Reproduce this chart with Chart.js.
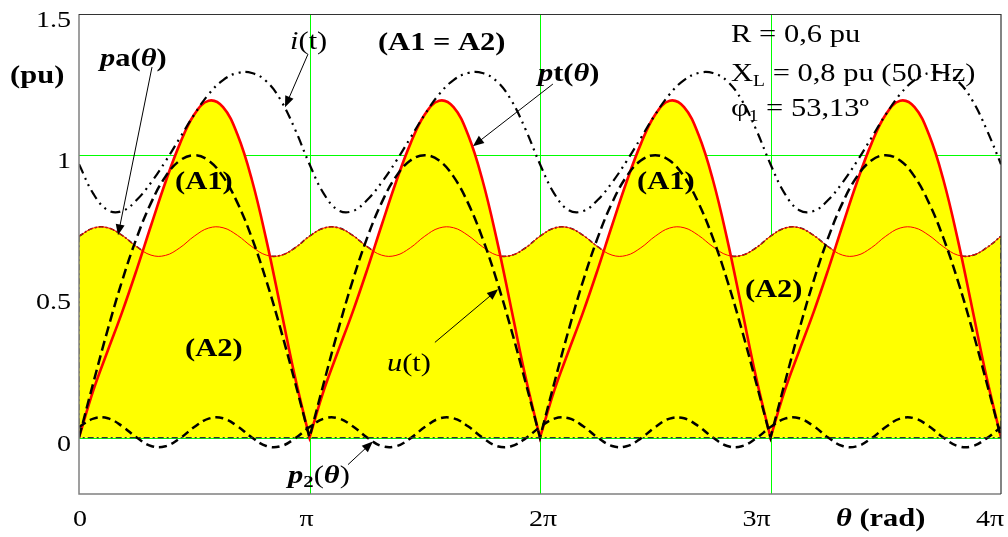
<!DOCTYPE html>
<html>
<head>
<meta charset="utf-8">
<script src="https://cdn.jsdelivr.net/npm/chart.js@4.4.1/dist/chart.umd.min.js"></script>
<style>
html,body{margin:0;padding:0;background:#fff;}
canvas{display:block;}
</style>
</head>
<body>
<canvas id="c" width="1008" height="537"></canvas>
<script>
// ---------------- data ----------------
// samples every pi/16 from 0 to 4*pi
const samplesPerPi = 16;

const uValues = [
  0,0.195,0.383,0.556,0.707,0.831,0.924,0.981,1,0.981,0.924,0.831,0.707,0.556,0.383,0.195,
  0,0.195,0.383,0.556,0.707,0.831,0.924,0.981,1,0.981,0.924,0.831,0.707,0.556,0.383,0.195,
  0,0.195,0.383,0.556,0.707,0.831,0.924,0.981,1,0.981,0.924,0.831,0.707,0.556,0.383,0.195,
  0,0.195,0.383,0.556,0.707,0.831,0.924,0.981,1,0.981,0.924,0.831,0.707,0.556,0.383,0.195,
  0
];
const iValues = [
  0.968,0.863,0.805,0.802,0.841,0.903,0.978,1.061,1.144,1.216,1.266,1.291,1.291,1.262,1.195,1.091,
  0.968,0.863,0.805,0.802,0.841,0.903,0.978,1.061,1.144,1.216,1.266,1.291,1.291,1.262,1.195,1.091,
  0.968,0.863,0.805,0.802,0.841,0.903,0.978,1.061,1.144,1.216,1.266,1.291,1.291,1.262,1.195,1.091,
  0.968,0.863,0.805,0.802,0.841,0.903,0.978,1.061,1.144,1.216,1.266,1.291,1.291,1.262,1.195,1.091,
  0.968
];
const ptValues = [
  0,0.168,0.308,0.445,0.594,0.751,0.904,1.040,1.144,1.193,1.170,1.073,0.913,0.701,0.458,0.213,
  0,0.168,0.308,0.445,0.594,0.751,0.904,1.040,1.144,1.193,1.170,1.073,0.913,0.701,0.458,0.213,
  0,0.168,0.308,0.445,0.594,0.751,0.904,1.040,1.144,1.193,1.170,1.073,0.913,0.701,0.458,0.213,
  0,0.168,0.308,0.445,0.594,0.751,0.904,1.040,1.144,1.193,1.170,1.073,0.913,0.701,0.458,0.213,
  0
];
const paValues = [
  0.713,0.742,0.743,0.716,0.676,0.646,0.645,0.672,0.713,0.742,0.743,0.716,0.676,0.646,0.645,0.672,
  0.713,0.742,0.743,0.716,0.676,0.646,0.645,0.672,0.713,0.742,0.743,0.716,0.676,0.646,0.645,0.672,
  0.713,0.742,0.743,0.716,0.676,0.646,0.645,0.672,0.713,0.742,0.743,0.716,0.676,0.646,0.645,0.672,
  0.713,0.742,0.743,0.716,0.676,0.646,0.645,0.672,0.713,0.742,0.743,0.716,0.676,0.646,0.645,0.672,
  0.713
];
const p2Values = [
  0.037,0.067,0.068,0.040,0.000,-0.030,-0.031,-0.003,0.037,0.067,0.068,0.040,0.000,-0.030,-0.031,-0.003,
  0.037,0.067,0.068,0.040,0.000,-0.030,-0.031,-0.003,0.037,0.067,0.068,0.040,0.000,-0.030,-0.031,-0.003,
  0.037,0.067,0.068,0.040,0.000,-0.030,-0.031,-0.003,0.037,0.067,0.068,0.040,0.000,-0.030,-0.031,-0.003,
  0.037,0.067,0.068,0.040,0.000,-0.030,-0.031,-0.003,0.037,0.067,0.068,0.040,0.000,-0.030,-0.031,-0.003,
  0.037
];

// ticks (x in multiples of pi)
const xTickValues = [0, 1, 2, 3, 4];
const xTickLabels = ['0', 'π', '2π', '3π', '4π'];
const yTickValues = [0, 0.5, 1, 1.5];
const yTickLabels = ['0', '0.5', '1', '1.5'];
const yMin = -0.2, yMax = 1.5;

// ---------------- build tables for the library ----------------
const theta = uValues.map((_, k) => k * Math.PI / samplesPerPi);
const pts = vals => vals.map((v, k) => ({x: theta[k], y: v}));
// duplicate interior zero points so the rectified curves keep sharp cusps
const ptsCusp = vals => {
  const out = [];
  vals.forEach((v, k) => {
    out.push({x: theta[k], y: v});
    if (v === 0 && k > 0 && k < vals.length - 1) out.push({x: theta[k], y: v});
  });
  return out;
};
const last = theta.length - 1;
const areaEdge = [
  {x: theta[0], y: paValues[0]}, {x: theta[0], y: 0},
  {x: theta[last], y: 0}, {x: theta[last], y: paValues[last]}
];
const gridX = xTickValues.filter(v => v > xTickValues[0] && v < xTickValues[xTickValues.length - 1]);
const gridY = yTickValues.filter(v => v < yMax);

// ---------------- drawing helpers ----------------
const SX = 1.22;
const FAM = '"Liberation Serif","Times New Roman",serif';
function runs(ctx, list, x, y, baseline, align) {
  ctx.save();
  ctx.textBaseline = baseline || 'middle';
  ctx.textAlign = 'left';
  let w = 0;
  for (const r of list) { ctx.font = `${r[1]} ${r[2]}px ${FAM}`; w += ctx.measureText(r[0]).width; }
  ctx.translate(x, y);
  ctx.scale(SX, 1);
  let cx = align === 'right' ? -w : (align === 'center' ? -w / 2 : 0);
  ctx.fillStyle = '#000';
  for (const r of list) {
    ctx.font = `${r[1]} ${r[2]}px ${FAM}`;
    ctx.fillText(r[0], cx, r[3] || 0);
    cx += ctx.measureText(r[0]).width;
  }
  ctx.restore();
}
function arrow(ctx, a, b) {
  const [x1, y1] = a, [x2, y2] = b;
  const ang = Math.atan2(y2 - y1, x2 - x1);
  const L = 11, W = 4.5;
  ctx.save();
  ctx.strokeStyle = '#000'; ctx.fillStyle = '#000'; ctx.lineWidth = 1;
  ctx.beginPath(); ctx.moveTo(x1, y1);
  ctx.lineTo(x2 - Math.cos(ang) * L * 0.8, y2 - Math.sin(ang) * L * 0.8); ctx.stroke();
  ctx.beginPath();
  ctx.moveTo(x2, y2);
  ctx.lineTo(x2 - Math.cos(ang) * L - Math.sin(ang) * W, y2 - Math.sin(ang) * L + Math.cos(ang) * W);
  ctx.lineTo(x2 - Math.cos(ang) * L + Math.sin(ang) * W, y2 - Math.sin(ang) * L - Math.cos(ang) * W);
  ctx.closePath(); ctx.fill();
  ctx.restore();
}

const greenGrid = {
  id: 'greenGrid',
  beforeDatasetsDraw(chart) {
    const ctx = chart.ctx, xs = chart.scales.x, ys = chart.scales.y, a = chart.chartArea;
    ctx.save();
    ctx.strokeStyle = '#00ff00'; ctx.lineWidth = 1;
    gridX.forEach(v => {
      const px = Math.round(xs.getPixelForValue(v * Math.PI)) + 0.5;
      ctx.beginPath(); ctx.moveTo(px, a.top); ctx.lineTo(px, a.bottom); ctx.stroke();
    });
    gridY.forEach(v => {
      const py = Math.round(ys.getPixelForValue(v)) + 0.5;
      ctx.beginPath(); ctx.moveTo(a.left, py); ctx.lineTo(a.right, py); ctx.stroke();
    });
    ctx.restore();
  }
};

const decor = {
  id: 'decor',
  afterDraw(chart) {
    const ctx = chart.ctx;
    const xs = chart.scales.x, ys = chart.scales.y, a = chart.chartArea;
    const P = (tp, v) => [xs.getPixelForValue(tp * Math.PI), ys.getPixelForValue(v)];

    // frame
    ctx.save();
    ctx.lineWidth = 1.5; ctx.strokeStyle = '#808080';
    ctx.beginPath(); ctx.moveTo(a.left, a.top); ctx.lineTo(a.left, a.bottom); ctx.lineTo(a.right, a.bottom); ctx.stroke();
    ctx.lineWidth = 1.2; ctx.strokeStyle = '#333';
    ctx.beginPath(); ctx.moveTo(a.left, a.top + 0.5); ctx.lineTo(a.right, a.top + 0.5); ctx.lineTo(a.right, a.bottom); ctx.stroke();
    ctx.restore();

    // tick labels
    const xOff = [1, -3, 3, -14, -11];
    xTickValues.forEach((v, i) => {
      runs(ctx, [[xTickLabels[i], 'normal', 23]], xs.getPixelForValue(v * Math.PI) + xOff[i], a.bottom + 26, 'middle', 'center');
    });
    yTickValues.forEach((v, i) => {
      runs(ctx, [[yTickLabels[i], 'normal', 23]], a.left - 8, ys.getPixelForValue(v) + 7, 'middle', 'right');
    });

    // axis captions
    runs(ctx, [['(pu)', 'bold', 25]], ...P(-0.299, 1.280), 'middle');
    runs(ctx, [['θ', 'italic bold', 25], [' (rad)', 'bold', 25]], ...P(3.284, -0.291), 'middle');

    // curve labels
    runs(ctx, [['p', 'italic bold', 25], ['a(', 'bold', 25], ['θ', 'italic bold', 25], [')', 'bold', 25]], ...P(0.0911, 1.340), 'middle');
    runs(ctx, [['i', 'italic', 25], ['(t)', 'normal', 25]], ...P(0.9154, 1.401), 'middle');
    runs(ctx, [['(A1 = A2)', 'bold', 25]], ...P(1.297, 1.394), 'middle');
    runs(ctx, [['p', 'italic bold', 25], ['t(', 'bold', 25], ['θ', 'italic bold', 25], [')', 'bold', 25]], ...P(1.991, 1.284), 'middle');
    runs(ctx, [['(A1)', 'bold', 25]], ...P(0.4165, 0.904), 'middle');
    runs(ctx, [['(A1)', 'bold', 25]], ...P(2.421, 0.904), 'middle');
    runs(ctx, [['(A2)', 'bold', 25]], ...P(0.460, 0.312), 'middle');
    runs(ctx, [['(A2)', 'bold', 25]], ...P(2.889, 0.521), 'middle');
    runs(ctx, [['u', 'italic', 25], ['(t)', 'normal', 25]], ...P(1.336, 0.259), 'middle');
    runs(ctx, [['p', 'italic bold', 25], ['2', 'bold', 17, 6], ['(', 'normal', 25], ['θ', 'italic bold', 25], [')', 'normal', 25]], ...P(0.907, -0.138), 'middle');

    // parameters box
    runs(ctx, [['R = 0,6 pu', 'normal', 25]], ...P(2.829, 1.401), 'alphabetic');
    runs(ctx, [['X', 'normal', 25], ['L', 'normal', 16, 5], [' = 0,8 pu (50 Hz)', 'normal', 25]], ...P(2.829, 1.262), 'alphabetic');
    runs(ctx, [['φ', 'normal', 25], ['1', 'normal', 16, 5], [' = 53,13º', 'normal', 25]], ...P(2.829, 1.138), 'alphabetic');

    // arrows
    arrow(ctx, P(0.3167, 1.312), P(0.1692, 0.716));
    arrow(ctx, P(0.9935, 1.358), P(0.8937, 1.170));
    arrow(ctx, P(2.056, 1.252), P(1.709, 1.032));
    arrow(ctx, P(1.544, 0.337), P(1.818, 0.525));
    arrow(ctx, P(1.167, -0.096), P(1.275, -0.014));
  }
};

new Chart(document.getElementById('c'), {
  type: 'line',
  data: {
    datasets: [
      {label: 'area edge', data: areaEdge, borderColor: '#333', borderWidth: 1.3, borderDash: [6, 3, 2, 3],
       pointRadius: 0, tension: 0, fill: false, order: 0},
      {label: 'i(t)', data: pts(iValues), borderColor: '#000', borderWidth: 2.2, borderDash: [10, 5, 2, 5, 2, 5],
       pointRadius: 0, tension: 0.4, fill: false, order: 1},
      {label: 'u(t)', data: ptsCusp(uValues), borderColor: '#000', borderWidth: 2.5, borderDash: [10, 5],
       pointRadius: 0, tension: 0.4, fill: false, order: 2},
      {label: 'p2(θ)', data: pts(p2Values), borderColor: '#000', borderWidth: 2.5, borderDash: [8, 5],
       pointRadius: 0, tension: 0.4, fill: false, order: 3},
      {label: 'pa(θ) line', data: pts(paValues), borderColor: '#ff0000', borderWidth: 1,
       pointRadius: 0, tension: 0.4, fill: false, order: 4},
      {label: 'pt(θ)', data: ptsCusp(ptValues), borderColor: '#ff0000', borderWidth: 2.6, backgroundColor: '#ffff00',
       pointRadius: 0, tension: 0.4, fill: 'origin', order: 5},
      {label: 'pa(θ) area', data: pts(paValues), borderColor: '#222', borderWidth: 1.6, borderDash: [5, 2, 2, 2],
       backgroundColor: '#ffff00', pointRadius: 0, tension: 0.4, fill: 'origin', order: 7}
    ]
  },
  options: {
    responsive: false,
    animation: false,
    devicePixelRatio: 1,
    layout: {padding: {left: 79, right: 7, top: 14, bottom: 43}},
    plugins: {legend: {display: false}, tooltip: {enabled: false}},
    scales: {
      x: {
        type: 'linear', min: xTickValues[0] * Math.PI, max: xTickValues[xTickValues.length - 1] * Math.PI,
        grid: {display: false, drawTicks: false},
        border: {display: false},
        ticks: {display: false}
      },
      y: {
        type: 'linear', min: yMin, max: yMax,
        grid: {display: false, drawTicks: false},
        border: {display: false},
        ticks: {display: false}
      }
    }
  },
  plugins: [greenGrid, decor]
});
</script>
</body>
</html>
